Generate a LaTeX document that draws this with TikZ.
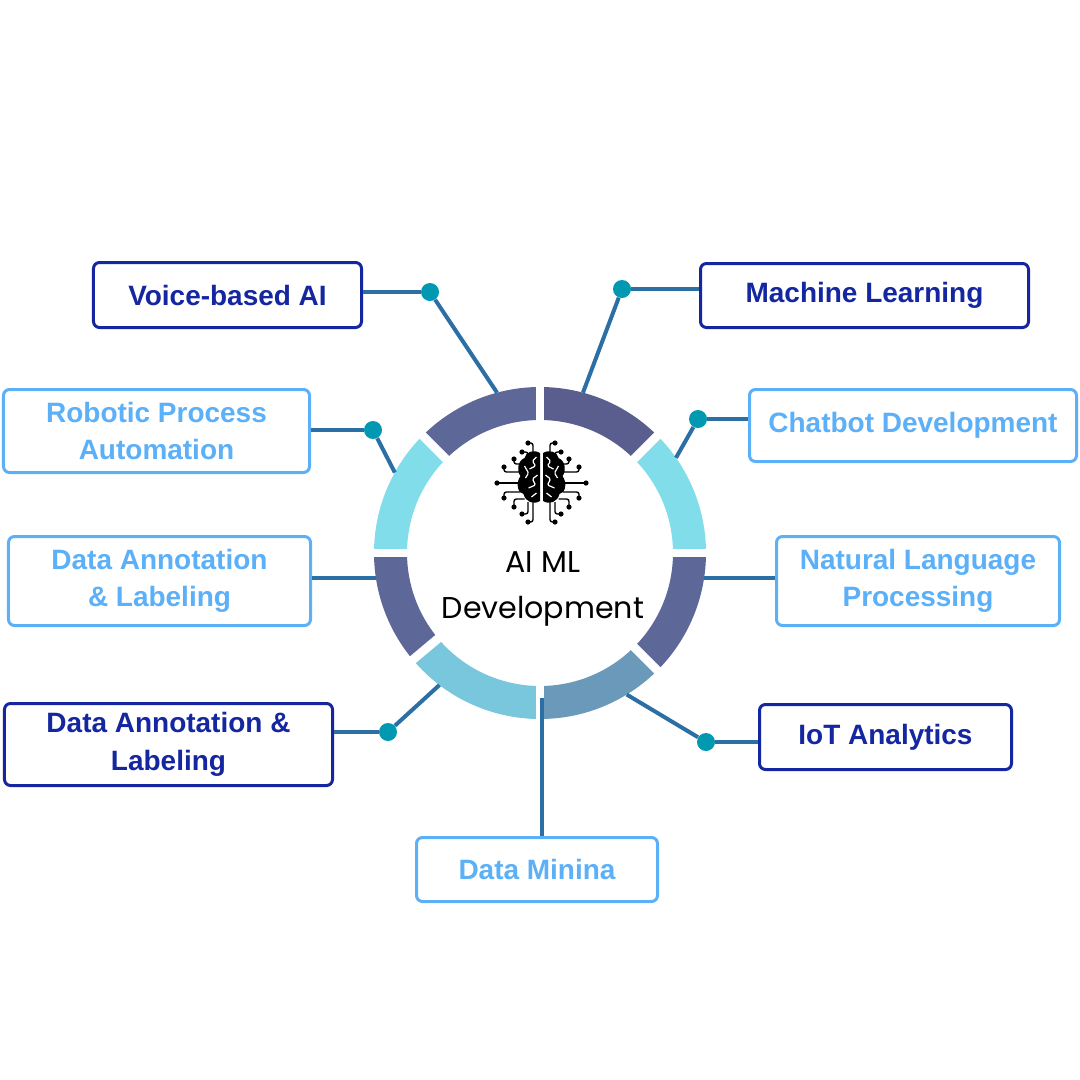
\documentclass[tikz,border=0pt]{standalone}
\usepackage{fontspec}
\setmainfont{Liberation Sans}
\newfontfamily\geofont{Poppins}
\usepackage{tikz}
\tikzset{>=latex}

\definecolor{navy}{RGB}{20,38,160}
\definecolor{sky}{RGB}{91,176,248}
\definecolor{wirecol}{RGB}{44,111,165}
\definecolor{pinteal}{RGB}{1,153,177}
\definecolor{slateA}{RGB}{93,104,152}
\definecolor{slateB}{RGB}{89,94,142}
\definecolor{cyanA}{RGB}{128,221,233}
\definecolor{cyanB}{RGB}{120,199,220}
\definecolor{steel}{RGB}{106,153,186}

\tikzset{
  darkbox/.style={draw=navy, text=navy, line width=0.75mm, rounded corners=1.5mm,
    font=\bfseries\fontsize{19.9}{26.7}\selectfont, align=center, inner sep=0pt},
  lightbox/.style={darkbox, draw=sky, text=sky},
  wire/.style={draw=wirecol, line width=1mm},
  pin/.style={circle, fill=pinteal, inner sep=0pt, minimum size=4.5mm},
}

\begin{document}
\begin{tikzpicture}[x=0.25mm, y=-0.25mm]
  \fill[white] (0,0) rectangle (1080,1080);
  \useasboundingbox (0,0) rectangle (1080,1080);

  % START: Ring ------------------------------------
  \begin{scope}[shift={(540,553)}, yscale=-1]
    \foreach \a/\b/\c in {0/45/cyanA, 45/90/slateB, 90/135/slateA, 135/180/cyanA,
                          180/220/slateA, 220/270/cyanB, 270/315/steel, 315/360/slateA}
      \fill[\c] (\a:166) arc[start angle=\a, end angle=\b, radius=166]
        -- (\b:133) arc[start angle=\b, end angle=\a, radius=133] -- cycle;
    \foreach \g in {0,45,90,135,180,220,270,315}
      \draw[white, line width=2.2mm] (\g:128) -- (\g:171);
    % ring ends of the connectors
    \coordinate (ring_105) at (105:166);
    \coordinate (ring_75) at (75:166);
    \coordinate (ring_35) at (35:166);
    \coordinate (ring_151) at (151:166);
    \coordinate (ring_189) at (188.6:166);
    \coordinate (ring_351) at (351.4:166);
    \coordinate (ring_302) at (301.5:166);
    \coordinate (ring_233) at (232.7:166);
    \coordinate (ring_270) at (270.7:145);
  \end{scope}
  % END: Ring --------------------------------------

  % START: Centre ----------------------------------
  \begin{scope}[shift={(541.5,482)}]
    \foreach \s in {1,-1}{
      \begin{scope}[xscale=\s]
        % half of the brain
        \fill[black] (-1.5,-29) .. controls (-8,-33) and (-16,-30) .. (-17,-24)
          .. controls (-24,-21) and (-25,-11) .. (-21,-6)
          .. controls (-26,1) and (-24,11) .. (-18,12)
          .. controls (-16,20) and (-8,23) .. (-1.5,19) -- cycle;
        \draw[white, line width=0.3mm, rounded corners=0.3mm]
          (-5,-25) -- (-9,-21) -- (-6,-16) -- (-12,-13)
          (-17,-16) -- (-13,-9) -- (-16,-4)
          (-4,-7) -- (-9,-3) -- (-6,3) -- (-13,6)
          (-5,11) -- (-10,15);
        % circuit traces
        \foreach \dx/\dy/\sx/\sy in {-13.5/-39/-8.5/-27, -19.5/-30/-13.5/-25,
                                     -19.5/32/-13.5/20, -13.5/40/-8.5/20}{
          \draw[line width=0.35mm, rounded corners=0.6mm] (\sx,\sy) |- (\dx,\dy);
          \fill (\dx,\dy) circle[radius=2.6];
        }
        \foreach \dx/\dy/\sx/\sy in {-27.5/-23/-17/-18, -37.5/-15/-21/-10,
                                     -37.5/16/-21/10, -27.5/25/-17/17}{
          \draw[line width=0.35mm, rounded corners=0.6mm] (\sx,\sy) -| (\dx,\dy);
          \fill (\dx,\dy) circle[radius=2.6];
        }
        \draw[line width=0.35mm] (-22,1) -- (-44.5,1);
        \fill (-44.5,1) circle[radius=2.6];
      \end{scope}
    }
  \end{scope}
  \node[font=\geofont\fontsize{21.4}{32.7}\selectfont, align=center, inner sep=0pt]
    (title) at (543,589) {AI ML\\Development};
  % END: Centre ------------------------------------

  % START: Boxes -----------------------------------
  \node[darkbox, minimum width=67mm, minimum height=16.25mm] (voice) at (227.5,295) {Voice-based AI};
  \node[darkbox, minimum width=82mm, minimum height=16mm] (machine) at (864.5,295.5) {Machine Learning};
  \node[lightbox, minimum width=81.75mm, minimum height=18mm] (chatbot) at (913,425.5) {Chatbot Development};
  \node[lightbox, minimum width=76.5mm, minimum height=20.75mm] (robotic) at (156.5,431) {Robotic Process\\Automation};
  \node[lightbox, minimum width=75.5mm, minimum height=22.25mm] (dal_light) at (159.5,581) {Data Annotation\\\& Labeling};
  \node[lightbox, minimum width=70.75mm, minimum height=22.25mm] (nlp) at (918,581) {Natural Language\\Processing};
  \node[darkbox, minimum width=82mm, minimum height=20.5mm] (dal_dark) at (168.5,744.5) {Data Annotation \&\\Labeling};
  \node[darkbox, minimum width=63mm, minimum height=16.25mm] (iot) at (885.5,737) {IoT Analytics};
  \node[lightbox, minimum width=60.25mm, minimum height=16mm] (mining) at (537,869.5) {Data Minina};
  % END: Boxes -------------------------------------

  % START: Pins ------------------------------------
  \node[pin] (pin_voice) at (430,292) {};
  \node[pin] (pin_machine) at (622,289) {};
  \node[pin] (pin_chatbot) at (698,419) {};
  \node[pin] (pin_robotic) at (373,430) {};
  \node[pin] (pin_dal_dark) at (388,732) {};
  \node[pin] (pin_iot) at (706,742) {};
  % END: Pins --------------------------------------

  % START: Connectors ------------------------------
  \draw[wire] (ring_105) -- (pin_voice);
  \draw[wire] (pin_voice) -- (pin_voice -| voice.east);
  \draw[wire] (ring_75) -- (pin_machine);
  \draw[wire] (pin_machine) -- (pin_machine -| machine.west);
  \draw[wire] (ring_35) -- (pin_chatbot);
  \draw[wire] (pin_chatbot) -- (pin_chatbot -| chatbot.west);
  \draw[wire] (ring_151) -- (pin_robotic);
  \draw[wire] (pin_robotic) -- (pin_robotic -| robotic.east);
  \draw[wire] (ring_189) -- (ring_189 -| dal_light.east);
  \draw[wire] (ring_351) -- (ring_351 -| nlp.west);
  \draw[wire] (ring_233) -- (pin_dal_dark);
  \draw[wire] (pin_dal_dark) -- (pin_dal_dark -| dal_dark.east);
  \draw[wire] (ring_302) -- (pin_iot);
  \draw[wire] (pin_iot) -- (pin_iot -| iot.west);
  \draw[wire] (ring_270) -- (ring_270 |- mining.north);
  % END: Connectors --------------------------------
\end{tikzpicture}
\end{document}
